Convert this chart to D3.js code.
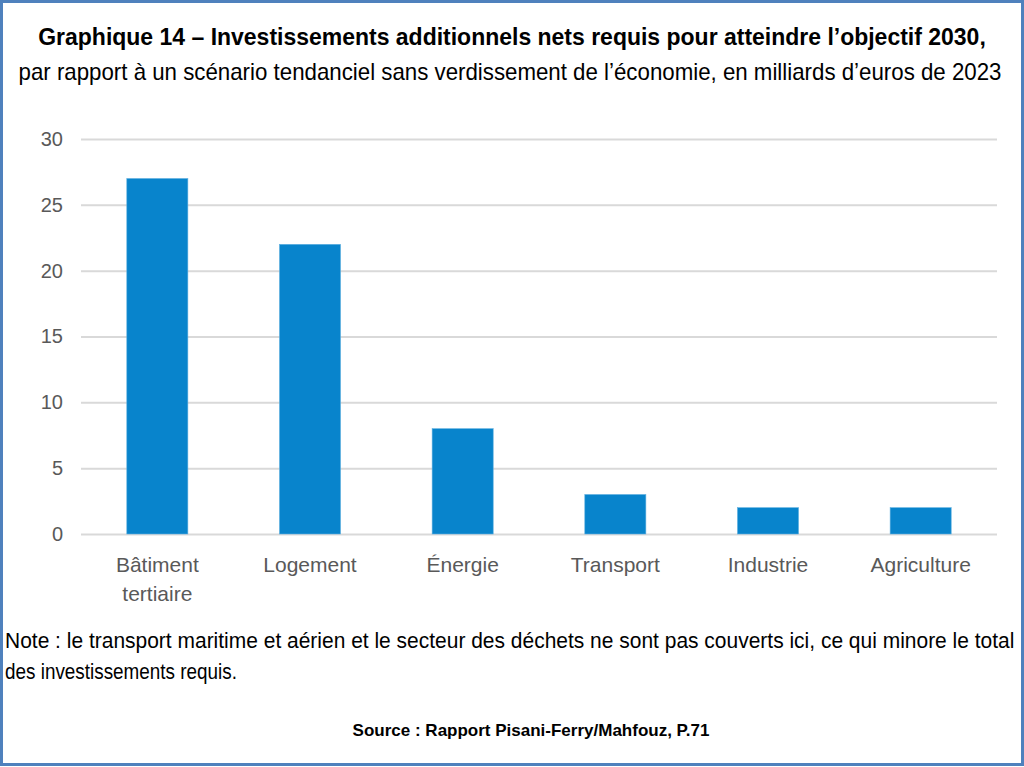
<!DOCTYPE html>
<html><head><meta charset="utf-8">
<script src="https://cdn.jsdelivr.net/npm/d3@7"></script>
<style>html,body{margin:0;padding:0;background:#fff;}svg{display:block;}</style>
</head><body>
<script>
const categories = [["Bâtiment","tertiaire"],["Logement"],["Énergie"],["Transport"],["Industrie"],["Agriculture"]];
const values = [27, 22, 8, 3, 2, 2];
const yTicks = [0, 5, 10, 15, 20, 25, 30];
const titleLine1 = "Graphique 14 – Investissements additionnels nets requis pour atteindre l’objectif 2030,";
const titleLine2 = "par rapport à un scénario tendanciel sans verdissement de l’économie, en milliards d’euros de 2023";
const noteLines = ["Note : le transport maritime et aérien et le secteur des déchets ne sont pas couverts ici, ce qui minore le total","des investissements requis."];
const sourceText = "Source : Rapport Pisani-Ferry/Mahfouz, P.71";

const W = 1024, H = 767;
const svg = d3.select("body").append("svg").attr("width", W).attr("height", H);
svg.append("rect").attr("x",1.5).attr("y",1.5).attr("width",W-3).attr("height",H-4)
  .attr("fill","#fff").attr("stroke","#4f81bd").attr("stroke-width",3);

const font = "'Liberation Sans Narrow','Arial Narrow','Liberation Sans',Arial,sans-serif";
// Draw text at (0,0) then squeeze horizontally with a transform to fit target width
function squeezedText(px, py, anchor, width, size, weight, str){
  const t = svg.append("text").attr("x",0).attr("y",0).attr("text-anchor",anchor)
    .attr("font-family",font).attr("font-weight",weight).attr("font-size",size).attr("fill","#000").text(str);
  const l = t.node().getComputedTextLength();
  const sx = Math.min(1, width / l);
  t.attr("transform", `translate(${px},${py}) scale(${sx},1)`);
  return t;
}
squeezedText(512, 45, "middle", 948, 23, "bold", titleLine1);
squeezedText(510, 80, "middle", 984, 23, "normal", titleLine2);

const x = d3.scaleBand().domain(categories.map(d=>d.join(" "))).range([81, 997]).paddingInner(0.6).paddingOuter(0.3);
const y = d3.scaleLinear().domain([0,30]).range([534, 139]);

const g = svg.append("g");
const yAxis = d3.axisLeft(y).tickValues(yTicks).tickSize(-(997-81)).tickPadding(18);
const ya = g.append("g").attr("transform","translate(81,0)").call(yAxis);
ya.select(".domain").remove();
ya.selectAll(".tick line").attr("stroke","#d9d9d9").attr("stroke-width",2);
ya.selectAll(".tick text").attr("font-family","'Liberation Sans',Arial,sans-serif").attr("font-size",20).attr("fill","#595959");

g.selectAll("rect.bar").data(values).join("rect").attr("class","bar")
  .attr("x",(d,i)=>x(categories[i].join(" ")))
  .attr("width",x.bandwidth())
  .attr("y",d=>y(d)).attr("height",d=>y(0)-y(d))
  .attr("fill","#0884cc").attr("stroke","#5fb0e0").attr("stroke-width",0.6);

const xa = g.append("g").attr("transform","translate(0,534)").call(d3.axisBottom(x).tickSize(0).tickFormat(""));
xa.select(".domain").remove();
categories.forEach((c,i)=>{
  const cx = x(c.join(" ")) + x.bandwidth()/2;
  const tx = g.append("text").attr("x",cx).attr("y",572).attr("text-anchor","middle")
    .attr("font-family","'Liberation Sans',Arial,sans-serif").attr("font-size",21).attr("fill","#595959");
  c.forEach((line,j)=> tx.append("tspan").attr("x",cx).attr("dy", j===0?0:29).text(line));
});

squeezedText(5, 648, "start", 1010, 22, "normal", noteLines[0]);
squeezedText(5, 679, "start", 232, 22, "normal", noteLines[1]);
squeezedText(531, 736, "middle", 362, 17, "bold", sourceText);
</script>
</body></html>
